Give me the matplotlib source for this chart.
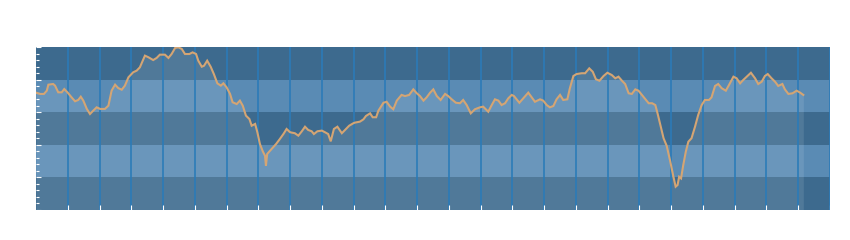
import matplotlib
matplotlib.use("Agg")
import matplotlib.pyplot as plt
from matplotlib.ticker import MultipleLocator

# ---- data ----
day = [0, 1.3, 2.5, 3.4, 3.9, 5.4, 6.0, 7.0, 8.1, 8.9, 9.9, 11.2, 12.3, 13.3, 14.1, 14.9,
       16.0, 17.0, 18.0, 19.1, 20.2, 21.7, 22.8, 23.8, 24.9, 25.9, 27.0, 28.0, 29.1, 30.6,
       31.7, 32.7, 34.3, 35.4, 36.9, 38.0, 39.0, 40.6, 41.7, 42.7, 43.8, 44.8, 45.9, 46.9,
       48.3, 49.3, 50.4, 51.1, 52.2, 52.9, 53.9, 55.0, 56.0, 57.1, 58.2, 59.0, 60.0, 61.1,
       61.9, 63.2, 64.2, 65.1, 66.1, 67.2, 67.9, 69.0, 69.7, 70.5, 71.4, 72.1, 72.4, 72.8,
       74.2, 75.6, 76.8, 77.9, 78.9, 80.0, 81.5, 82.6, 83.7, 84.7, 85.7, 86.8, 87.5, 88.6,
       90.0, 91.0, 92.0, 92.8, 93.8, 94.9, 96.3, 97.3, 98.6, 99.9, 100.4, 102.0, 103.1,
       103.9, 105.2, 106.0, 107.1, 107.8, 109.4, 110.4, 111.5, 112.5, 113.6, 115.1, 116.2,
       117.5, 118.8, 119.9, 120.9, 122.0, 123.0, 124.1, 125.1, 126.2, 127.4, 128.8, 129.8,
       130.9, 132.2, 133.5, 134.5, 135.6, 136.9, 138.2, 139.8, 140.8, 142.4, 143.5, 144.5,
       145.6, 146.6, 147.7, 148.7, 149.8, 150.5, 152.2, 153.4, 155.0, 156.1, 157.1, 158.7,
       159.7, 160.8, 161.8, 162.9, 163.9, 165.0, 166.0, 167.3, 168.1, 169.2, 170.2, 171.8,
       172.9, 174.2, 175.3, 176.3, 177.4, 178.7, 179.9, 181.3, 182.4, 183.4, 184.5, 185.5,
       186.6, 187.6, 188.7, 189.7, 190.8, 191.9, 192.9, 194.0, 195.0, 195.7, 196.6, 197.6,
       198.6, 199.6, 200.7, 201.4, 202.0, 202.5, 203.1, 203.8, 204.6, 205.4, 206.4, 207.5,
       208.5, 209.6, 210.6, 211.9, 212.7, 213.8, 214.8, 215.9, 217.2, 218.2, 219.6, 220.6,
       221.7, 222.7, 223.8, 225.1, 226.4, 227.4, 228.5, 229.5, 230.4, 231.6, 232.7, 233.7,
       235.0, 235.8, 236.9, 238.2, 239.5, 240.6, 241.6]
value = [72.0, 71.2, 71.2, 73.2, 76.9, 77.3, 76.3, 72.2, 72.2, 74.2, 72.2, 69.1, 66.7, 67.5,
         69.5, 67.1, 62.0, 58.9, 60.9, 63.0, 62.0, 62.0, 64.0, 73.2, 76.9, 74.8, 73.8, 76.3,
         81.4, 84.5, 85.5, 87.5, 94.7, 93.7, 92.0, 93.3, 95.3, 95.3, 93.3, 95.7, 99.4, 99.8,
         98.8, 95.7, 95.7, 96.7, 95.7, 91.6, 87.9, 88.5, 91.6, 87.9, 83.4, 77.7, 76.3, 77.7,
         75.3, 71.2, 66.1, 65.0, 67.1, 64.0, 57.9, 55.8, 51.7, 52.8, 47.7, 40.5, 36.0, 33.3,
         27.2, 34.4, 37.4, 40.5, 43.6, 46.6, 49.7, 47.7, 47.1, 45.6, 48.3, 51.1, 49.1, 48.3,
         46.6, 48.3, 48.7, 47.7, 46.6, 42.1, 49.7, 51.1, 47.1, 49.1, 51.7, 53.2, 53.6, 54.2,
         55.6, 57.7, 59.3, 56.9, 56.9, 60.9, 65.8, 66.4, 63.4, 61.8, 67.1, 70.6, 69.9, 70.6,
         74.0, 71.6, 69.9, 67.1, 69.1, 72.0, 74.0, 69.9, 67.5, 71.2, 69.9, 67.9, 65.8, 65.5,
         67.5, 64.4, 59.3, 61.8, 63.0, 63.4, 60.3, 64.4, 67.9, 67.1, 64.4, 65.5, 68.5, 70.6,
         69.9, 65.8, 68.5, 72.0, 69.1, 66.4, 67.9, 67.1, 64.4, 63.0, 63.8, 67.9, 70.6, 67.5,
         67.9, 74.7, 82.2, 83.4, 83.9, 83.9, 86.9, 84.8, 80.2, 79.3, 82.2, 84.2, 82.8, 80.8,
         81.8, 79.3, 77.3, 71.6, 71.2, 74.0, 73.2, 70.6, 67.9, 65.5, 65.5, 64.4, 59.3, 52.1,
         44.0, 39.3, 30.7, 20.4, 14.3, 15.3, 20.4, 19.4, 27.6, 35.8, 41.9, 44.0, 51.1, 58.3,
         64.4, 67.5, 67.5, 69.1, 76.1, 77.3, 74.7, 73.2, 76.7, 81.8, 80.8, 77.7, 79.8, 81.8,
         84.2, 80.8, 77.3, 78.7, 82.2, 83.4, 80.8, 78.7, 76.1, 77.3, 74.0, 71.2, 71.6, 73.2,
         72.0, 70.6]

x_min, x_max = 0, 250
y_min, y_max = 0, 100
band_edges = [0, 20, 40, 60, 80, 100]
x_ticks = list(range(10, 251, 10))

# ---- style ----
BAND_DARK = "#3d6a8e"
BAND_MED = "#5a8bb4"
GRID_BLUE = "#2b7bb8"
LINE_TAN = "#d4a574"

fig = plt.figure(figsize=(8.5, 2.4), dpi=100)
ax = fig.add_axes([36 / 850, 1 - 210 / 240, (830 - 36) / 850, (210 - 47) / 240])

for i in range(len(band_edges) - 1):
    color = BAND_DARK if i % 2 == 0 else BAND_MED
    ax.axhspan(band_edges[i], band_edges[i + 1], color=color, lw=0, zorder=0.5)

ax.fill_between(day, value, y_min, color="white", alpha=0.1, lw=0, zorder=1.5)
ax.plot(day, value, color=LINE_TAN, lw=1.5, zorder=3, solid_joinstyle="miter")

ax.set_xlim(x_min, x_max)
ax.set_ylim(y_min, y_max)
ax.set_xticks(x_ticks)
ax.yaxis.set_major_locator(MultipleLocator(20))
ax.yaxis.set_minor_locator(MultipleLocator(4))

ax.set_axisbelow(False)
ax.grid(axis="x", color=GRID_BLUE, lw=1.3, alpha=0.9, zorder=2)
ax.grid(axis="y", visible=False)

ax.tick_params(axis="x", which="both", direction="in", length=3.6, width=0.8,
               color="white", labelbottom=False, bottom=True, top=False)
ax.tick_params(axis="y", which="major", direction="in", length=3.6, width=0.8,
               color="white", labelleft=False, left=True, right=False)
ax.tick_params(axis="y", which="minor", direction="in", length=2.2, width=0.8,
               color="white", left=True, right=False)

for s in ax.spines.values():
    s.set_visible(False)

fig.savefig("out.png", dpi=100)
